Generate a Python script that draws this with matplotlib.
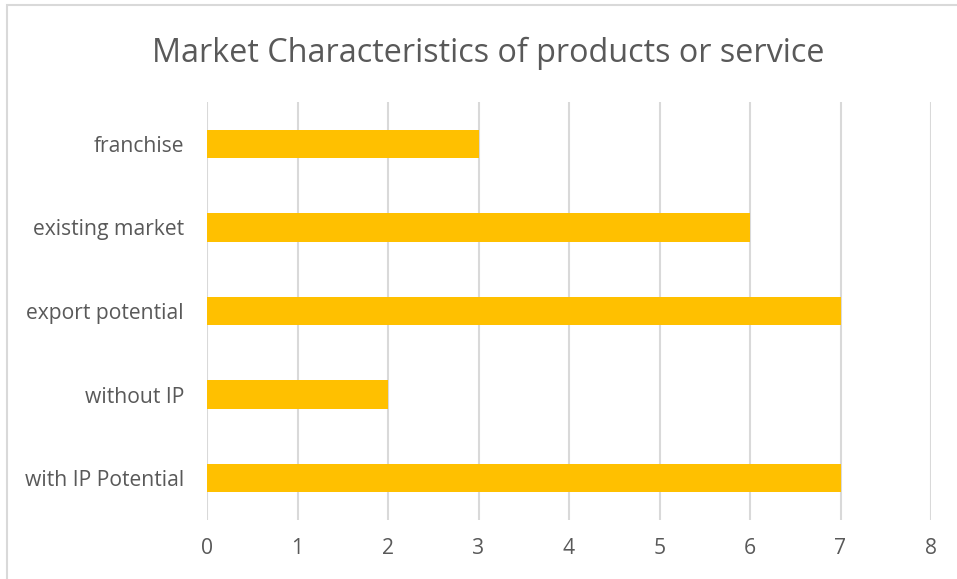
import matplotlib
matplotlib.use("Agg")
import matplotlib.pyplot as plt
from matplotlib.patches import Rectangle

categories = ["with IP Potential", "without IP", "export potential", "existing market", "franchise"]
values = [7, 2, 7, 6, 3]
x_ticks = [0, 1, 2, 3, 4, 5, 6, 7, 8]
title = "Market Characteristics of products or service"

plt.rcParams["font.family"] = ["Open Sans", "DejaVu Sans"]
text_color = "#595959"
grid_color = "#d9d9d9"
bar_color = "#FFC000"

W, H = 957, 579
fig = plt.figure(figsize=(W / 100, H / 100), dpi=100)
fig.patch.set_facecolor("white")

# chart frame (open on the right and bottom)
fig.patches.append(Rectangle((7 / W, -0.05), 1.2, 1 - 5 / H + 0.05,
                             transform=fig.transFigure, fill=False,
                             edgecolor=grid_color, linewidth=1.5))

left, right, top, bottom = 207, 931, 102, 520
ax = fig.add_axes([left / W, 1 - bottom / H, (right - left) / W, (bottom - top) / H])

ypos = list(range(len(categories)))
ax.barh(ypos, values, height=0.34, color=bar_color, zorder=3)
ax.set_xlim(0, 8)
ax.set_ylim(-0.5, len(categories) - 0.5)
ax.set_xticks(x_ticks)
ax.set_xticklabels([str(t) for t in x_ticks])
ax.set_yticks(ypos)
ax.set_yticklabels(categories)
ax.xaxis.grid(True, color=grid_color, linewidth=1.5, zorder=0)
ax.yaxis.grid(False)
for s in ax.spines.values():
    s.set_visible(False)
ax.tick_params(axis="both", length=0, labelsize=15.2, colors=text_color)
ax.tick_params(axis="x", pad=13)
ax.tick_params(axis="y", pad=16.5)

fig.text((150 + 826) / 2 / W, 1 - 62 / H, title, ha="center", va="baseline",
         fontsize=23.3, color=text_color)

fig.savefig("out.png", dpi=100)
